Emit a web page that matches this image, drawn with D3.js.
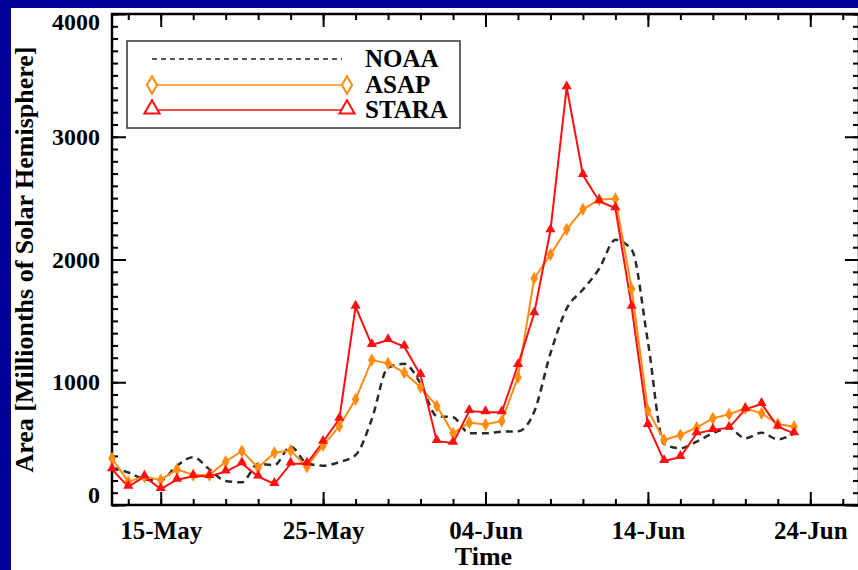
<!DOCTYPE html>
<html>
<head>
<meta charset="utf-8">
<script src="https://cdn.jsdelivr.net/npm/d3@7"></script>
<style>
  body { margin: 0; background: #000096; }
  svg { display: block; }
  text { font-family: "Liberation Serif", "Times New Roman", serif; font-weight: bold; fill: #000; }
</style>
</head>
<body>
<svg id="chart" width="858" height="570"></svg>
<script>
// daily samples, 12-May .. 23-Jun
const dates = [
  "2003-05-12","2003-05-13","2003-05-14","2003-05-15","2003-05-16","2003-05-17","2003-05-18",
  "2003-05-19","2003-05-20","2003-05-21","2003-05-22","2003-05-23","2003-05-24","2003-05-25",
  "2003-05-26","2003-05-27","2003-05-28","2003-05-29","2003-05-30","2003-05-31","2003-06-01",
  "2003-06-02","2003-06-03","2003-06-04","2003-06-05","2003-06-06","2003-06-07","2003-06-08",
  "2003-06-09","2003-06-10","2003-06-11","2003-06-12","2003-06-13","2003-06-14","2003-06-15",
  "2003-06-16","2003-06-17","2003-06-18","2003-06-19","2003-06-20","2003-06-21","2003-06-22",
  "2003-06-23"
]
const noaa = [300,265,210,200,320,390,290,195,185,335,325,475,340,320,350,407,700,1120,1150,990,
  725,714,585,584,597,600,760,1235,1600,1755,1925,2160,2080,1330,495,462,516,584,625,543,589,535,584]
const asap = [380,190,231,204,290,244,244,353,440,303,426,443,310,485,642,861,1181,1154,1078,959,
  806,584,671,655,685,1040,1847,2040,2246,2409,2488,2495,1762,770,530,570,630,706,739,787,747,660,638]
const stara = [290,149,231,130,206,235,235,272,339,231,171,337,337,515,702,1615,1303,1344,1290,1059,
  520,506,766,756,755,1140,1562,2238,3403,2688,2475,2417,1615,652,358,391,584,611,630,780,823,638,584]

const yTicks = [0,1000,2000,3000,4000]
const xTicks = ["2003-05-15","2003-05-25","2003-06-04","2003-06-14","2003-06-24"]
const seriesNames = ["NOAA","ASAP","STARA"]

const parse = d3.timeParse("%Y-%m-%d")
const days = dates.map(parse)

const svg = d3.select("#chart")
const pl = 112, pr = 859, pt = 14, pb = 505

svg.append("rect").attr("width", 858).attr("height", 570).attr("fill", "#000096")
svg.append("rect").attr("x", 11).attr("y", 8).attr("width", 847).attr("height", 562).attr("fill", "#fff")

const x = d3.scaleTime()
  .domain([parse("2003-05-12"), parse("2003-06-27")])
  .range([pl, pr])
const y = d3.scaleLinear()
  .domain([0, 4000])
  .range([pb, pt])

const minorX = d3.timeDay.range(parse("2003-05-13"), parse("2003-06-27"), 2)
const minorY = d3.range(0, 4001, 100)

function styleAxis(size) {
  return g => {
    g.select(".domain").remove()
    g.selectAll("line").attr("stroke", "#000").attr("stroke-width", 2)
    g.selectAll("text").style("font-size", size + "px").attr("fill", "#000")
  }
}

// bottom axis
svg.append("g").attr("transform", `translate(0,${pb})`)
  .call(d3.axisBottom(x).tickValues(minorX).tickSizeInner(-6).tickSizeOuter(0).tickFormat(""))
  .call(styleAxis(25))
svg.append("g").attr("transform", `translate(0,${pb})`)
  .call(d3.axisBottom(x).tickValues(xTicks.map(parse)).tickSizeInner(-13).tickSizeOuter(0)
    .tickPadding(16).tickFormat(d3.timeFormat("%d-%b")))
  .call(styleAxis(25))
// top axis
svg.append("g").attr("transform", `translate(0,${pt})`)
  .call(d3.axisTop(x).tickValues(minorX).tickSizeInner(-6).tickSizeOuter(0).tickFormat(""))
  .call(styleAxis(25))
svg.append("g").attr("transform", `translate(0,${pt})`)
  .call(d3.axisTop(x).tickValues(xTicks.map(parse)).tickSizeInner(-13).tickSizeOuter(0).tickFormat(""))
  .call(styleAxis(25))

// left axis
svg.append("g").attr("transform", `translate(${pl},0)`)
  .call(d3.axisLeft(y).tickValues(minorY).tickSizeInner(-6).tickSizeOuter(0).tickFormat(""))
  .call(styleAxis(24))
const yAxis = svg.append("g").attr("transform", `translate(${pl},0)`)
  .call(d3.axisLeft(y).tickValues(yTicks).tickSizeInner(-14).tickSizeOuter(0).tickPadding(12).tickFormat(d3.format("d")))
  .call(styleAxis(24))
yAxis.selectAll(".tick text")
  .attr("y", d => d === 4000 ? 8 : d === 0 ? -10 : 0)
// right axis
svg.append("g").attr("transform", `translate(${pr},0)`)
  .call(d3.axisRight(y).tickValues(minorY).tickSizeInner(-6).tickSizeOuter(0).tickFormat(""))
  .call(styleAxis(24))
svg.append("g").attr("transform", `translate(${pr},0)`)
  .call(d3.axisRight(y).tickValues(yTicks).tickSizeInner(-14).tickSizeOuter(0).tickFormat(""))
  .call(styleAxis(24))

// frame
svg.append("rect")
  .attr("x", pl).attr("y", pt)
  .attr("width", pr - pl).attr("height", pb - pt)
  .attr("fill", "none").attr("stroke", "#000").attr("stroke-width", 2.5)

// axis titles
svg.append("text")
  .attr("x", (pl + pr) / 2 - 2).attr("y", 565)
  .attr("text-anchor", "middle").style("font-size", "26px")
  .text("Time")
svg.append("text")
  .attr("transform", `translate(33,${(pt + pb) / 2}) rotate(-90)`)
  .attr("text-anchor", "middle").style("font-size", "26px")
  .text("Area [Millionths of Solar Hemisphere]")

// series
const lineSharp = d3.line().x((d, i) => x(days[i])).y(d => y(d))
const lineSmooth = d3.line().x((d, i) => x(days[i])).y(d => y(d)).curve(d3.curveMonotoneX)

svg.append("path").datum(noaa)
  .attr("d", lineSmooth)
  .attr("fill", "none").attr("stroke", "#2a2a2a").attr("stroke-width", 2.5)
  .attr("stroke-dasharray", "7,5")

svg.append("path").datum(asap)
  .attr("d", lineSharp)
  .attr("fill", "none").attr("stroke", "#ff8c10").attr("stroke-width", 2)
svg.append("path").datum(stara)
  .attr("d", lineSharp)
  .attr("fill", "none").attr("stroke", "#ff1010").attr("stroke-width", 2)

const diamond = d3.symbol().type(d3.symbolDiamond).size(50)
const triangle = d3.symbol().type(d3.symbolTriangle).size(45)

svg.append("g").selectAll("path").data(asap).join("path")
  .attr("transform", (d, i) => `translate(${x(days[i])},${y(d)})`)
  .attr("d", diamond).attr("fill", "#ff8c10")
svg.append("g").selectAll("path").data(stara).join("path")
  .attr("transform", (d, i) => `translate(${x(days[i])},${y(d) - 1})`)
  .attr("d", triangle).attr("fill", "#ff1010")

// legend
const legend = svg.append("g")
legend.append("rect")
  .attr("x", 127).attr("y", 41).attr("width", 333).attr("height", 87)
  .attr("fill", "#fff").attr("stroke", "#333").attr("stroke-width", 1.5)
const rows = [59, 85, 110]
legend.append("line").attr("x1", 152).attr("x2", 342).attr("y1", rows[0]).attr("y2", rows[0])
  .attr("stroke", "#222").attr("stroke-width", 1.5).attr("stroke-dasharray", "5,4")
legend.append("line").attr("x1", 152).attr("x2", 347).attr("y1", rows[1]).attr("y2", rows[1])
  .attr("stroke", "#ff8c10").attr("stroke-width", 1.5)
legend.append("line").attr("x1", 152).attr("x2", 347).attr("y1", rows[2]).attr("y2", rows[2])
  .attr("stroke", "#ff1010").attr("stroke-width", 1.5)
const bigDiamond = d3.symbol().type(d3.symbolDiamond).size(90)
const bigTriangle = d3.symbol().type(d3.symbolTriangle).size(100)
;[152, 347].forEach(cx => {
  legend.append("path").attr("d", bigDiamond)
    .attr("transform", `translate(${cx},${rows[1]})`)
    .attr("fill", "#fff").attr("stroke", "#ff8c10").attr("stroke-width", 2)
  legend.append("path").attr("d", bigTriangle)
    .attr("transform", `translate(${cx},${rows[2] - 1})`)
    .attr("fill", "#fff").attr("stroke", "#ff1010").attr("stroke-width", 2)
})
legend.selectAll("text.lab").data(seriesNames).join("text")
  .attr("x", 365).attr("y", (d, i) => rows[i] + 8)
  .style("font-size", "25px")
  .text(d => d)
</script>
</body>
</html>
